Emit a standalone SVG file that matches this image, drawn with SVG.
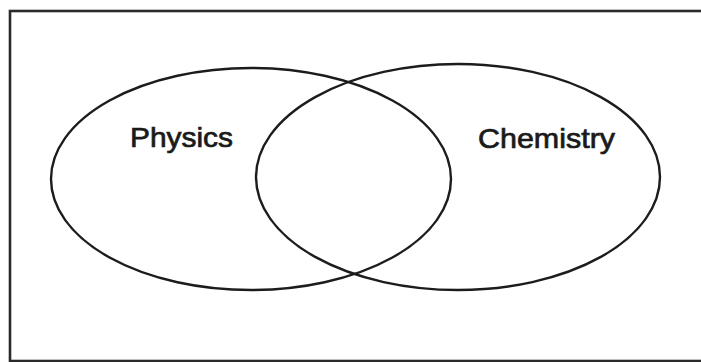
<svg xmlns="http://www.w3.org/2000/svg" width="701" height="362" viewBox="0 0 701 362">
<style>
.frame{fill:none;stroke:#2a2a2a;stroke-width:2.6}
.set{fill:none;stroke:#1c1c1c;stroke-width:2.4}
.lbl{font-family:"Liberation Sans",Arial,sans-serif;font-size:28px;fill:#1a1a1a;stroke:#1a1a1a;stroke-width:0.7}
</style>
<rect fill="#ffffff" x="0" y="0" width="701" height="362"/>
<rect class="frame" x="10" y="11" width="700" height="350"/>
<g id="physics">
<ellipse class="set" cx="251" cy="179" rx="200" ry="111"/>
<text class="lbl" x="130" y="147" textLength="103" lengthAdjust="spacingAndGlyphs">Physics</text>
</g>
<g id="chemistry">
<ellipse class="set" cx="458" cy="177" rx="202" ry="113"/>
<text class="lbl" x="478" y="148" textLength="137" lengthAdjust="spacingAndGlyphs">Chemistry</text>
</g>
<g id="connectors"></g>
</svg>
